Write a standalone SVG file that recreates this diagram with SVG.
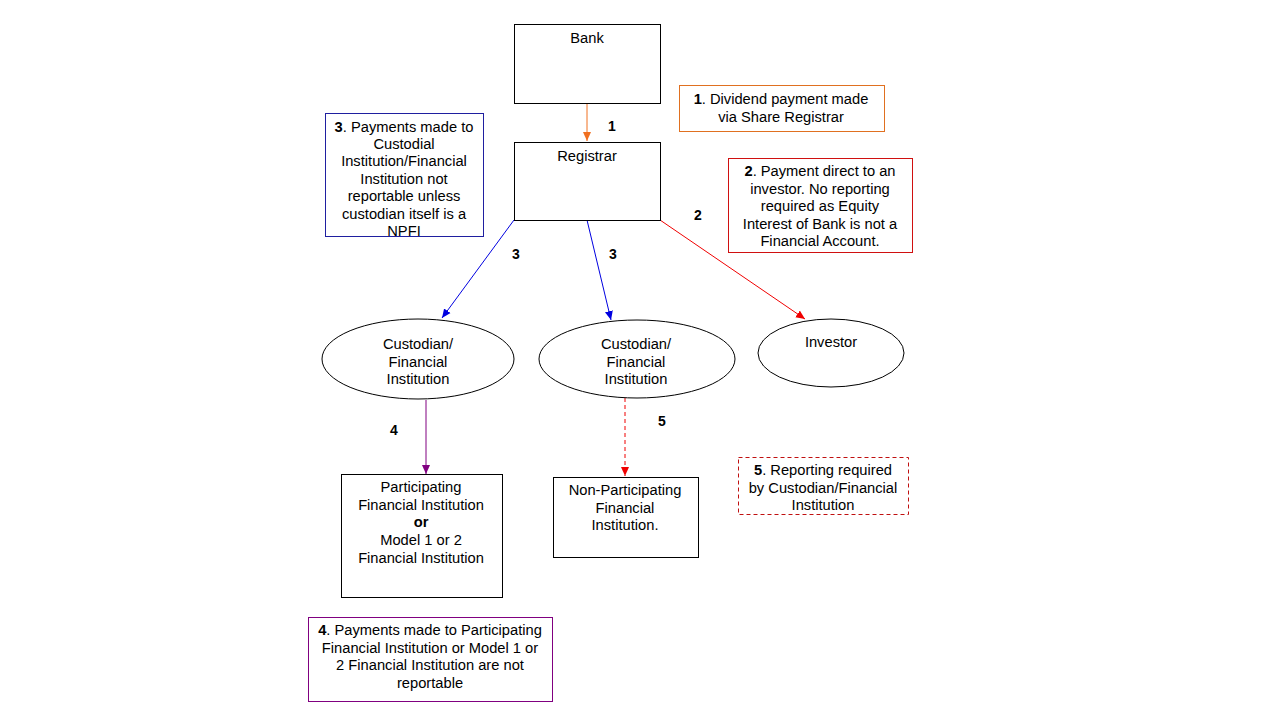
<svg xmlns="http://www.w3.org/2000/svg" width="1280" height="720" viewBox="0 0 1280 720">
<style>
text{font-family:"Liberation Sans",Arial,sans-serif;font-size:14.7px;fill:#000;text-anchor:middle}
.b{font-weight:bold}
.box{fill:#fff;stroke:#000;stroke-width:1}
.note{fill:#fff;stroke-width:1}
.lbl{font-weight:bold;font-size:14px}
</style>
<defs>
<marker id="ao" markerWidth="10" markerHeight="10" refX="9" refY="5" orient="auto" markerUnits="userSpaceOnUse"><path d="M0,1 L9,5 L0,9 z" fill="#F07020"/></marker>
<marker id="ab" markerWidth="10" markerHeight="10" refX="9" refY="5" orient="auto" markerUnits="userSpaceOnUse"><path d="M0,1 L9,5 L0,9 z" fill="#0000E0"/></marker>
<marker id="ar" markerWidth="10" markerHeight="10" refX="9" refY="5" orient="auto" markerUnits="userSpaceOnUse"><path d="M0,1 L9,5 L0,9 z" fill="#F00000"/></marker>
<marker id="ap" markerWidth="10" markerHeight="10" refX="9" refY="5" orient="auto" markerUnits="userSpaceOnUse"><path d="M0,1 L9,5 L0,9 z" fill="#800080"/></marker>
</defs>
<rect width="1280" height="720" fill="#fff"/>

<g id="connectors">
<line x1="587" y1="103" x2="587" y2="141" stroke="#F07020" stroke-width="1" marker-end="url(#ao)"/>
<line x1="514" y1="220" x2="442" y2="318" stroke="#0000E0" stroke-width="1" marker-end="url(#ab)"/>
<line x1="587" y1="220" x2="611" y2="320" stroke="#0000E0" stroke-width="1" marker-end="url(#ab)"/>
<line x1="660" y1="220" x2="805" y2="319" stroke="#F00000" stroke-width="1" marker-end="url(#ar)"/>
<line x1="426" y1="400" x2="426" y2="474" stroke="#800080" stroke-width="1" marker-end="url(#ap)"/>
<line x1="625" y1="398" x2="625" y2="476" stroke="#F00000" stroke-width="1" stroke-dasharray="4,3" marker-end="url(#ar)"/>
<text class="lbl" x="612" y="131">1</text>
<text class="lbl" x="698" y="220">2</text>
<text class="lbl" x="516" y="259">3</text>
<text class="lbl" x="613" y="259">3</text>
<text class="lbl" x="394" y="435">4</text>
<text class="lbl" x="662" y="426">5</text>
</g>

<g id="bank">
<rect class="box" x="514.5" y="24.5" width="146" height="79"/>
<text x="587" y="43">Bank</text>
</g>

<g id="registrar">
<rect class="box" x="514.5" y="142.5" width="146" height="78"/>
<text x="587" y="161">Registrar</text>
</g>

<g id="custodian1">
<ellipse class="box" cx="418" cy="359" rx="96" ry="40"/>
<text x="418" y="349">Custodian/</text>
<text x="418" y="367">Financial</text>
<text x="418" y="384">Institution</text>
</g>

<g id="custodian2">
<ellipse class="box" cx="637" cy="359" rx="98" ry="39"/>
<text x="636" y="349">Custodian/</text>
<text x="636" y="367">Financial</text>
<text x="636" y="384">Institution</text>
</g>

<g id="investor">
<ellipse class="box" cx="831" cy="353" rx="73" ry="34"/>
<text x="831" y="347">Investor</text>
</g>

<g id="pfi">
<rect class="box" x="341.5" y="474.5" width="161" height="123"/>
<text x="421" y="492">Participating</text>
<text x="421" y="510">Financial Institution</text>
<text x="421" y="527" class="b">or</text>
<text x="421" y="545">Model  1 or 2</text>
<text x="421" y="563">Financial Institution</text>
</g>

<g id="npfi">
<rect class="box" x="553.5" y="477.5" width="145" height="80"/>
<text x="625" y="495">Non-Participating</text>
<text x="625" y="513">Financial</text>
<text x="625" y="530">Institution.</text>
</g>

<g id="note1">
<rect class="note" x="679.5" y="85.5" width="205" height="46" stroke="#E07020"/>
<text x="781" y="104"><tspan class="b">1</tspan>. Dividend payment made</text>
<text x="781" y="122">via Share Registrar</text>
</g>

<g id="note2">
<rect class="note" x="728.5" y="158.5" width="184" height="94" stroke="#D01010"/>
<text x="820" y="176"><tspan class="b">2</tspan>. Payment direct to an</text>
<text x="820" y="194">investor. No reporting</text>
<text x="820" y="211">required as Equity</text>
<text x="820" y="229">Interest of Bank is not a</text>
<text x="820" y="246">Financial Account.</text>
</g>

<g id="note3">
<rect class="note" x="325.5" y="113.5" width="158" height="123" stroke="#1F1FA0"/>
<text x="404" y="132"><tspan class="b">3</tspan>. Payments made to</text>
<text x="404" y="149">Custodial</text>
<text x="404" y="166">Institution/Financial</text>
<text x="404" y="184">Institution  not</text>
<text x="404" y="201">reportable unless</text>
<text x="404" y="219">custodian itself is a</text>
<text x="404" y="236">NPFI</text>
</g>

<g id="note4">
<rect class="note" x="308.5" y="617.5" width="244" height="84" stroke="#800080"/>
<text x="430" y="635"><tspan class="b">4</tspan>. Payments made to Participating</text>
<text x="430" y="653">Financial Institution  or Model  1 or</text>
<text x="430" y="670">2 Financial Institution  are not</text>
<text x="430" y="688">reportable</text>
</g>

<g id="note5">
<rect class="note" x="738.5" y="457.5" width="170" height="57" stroke="#C01010" stroke-dasharray="4,3"/>
<text x="823" y="475"><tspan class="b">5</tspan>. Reporting required</text>
<text x="823" y="493">by Custodian/Financial</text>
<text x="823" y="510">Institution</text>
</g>
</svg>
